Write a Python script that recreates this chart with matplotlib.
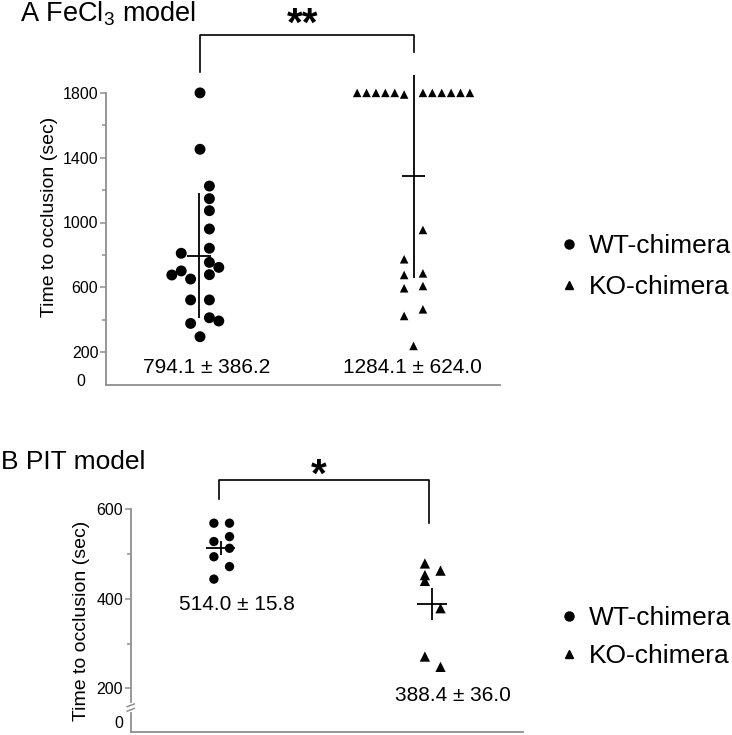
import matplotlib
matplotlib.use('Agg')
import numpy as np
import matplotlib.pyplot as plt
from matplotlib.lines import Line2D

plt.rcParams['font.family'] = ['Liberation Sans', 'DejaVu Sans']
plt.rcParams['mathtext.fontset'] = 'custom'
plt.rcParams['mathtext.rm'] = 'Liberation Sans'
plt.rcParams['mathtext.it'] = 'Liberation Sans:italic'
plt.rcParams['mathtext.bf'] = 'Liberation Sans:bold'

groups = ['WT-chimera', 'KO-chimera']

# panel A: FeCl3 model (values in sec, column = beeswarm column)
wt_a = [1800, 1452, 1225, 1147, 1073, 960, 841, 810, 754, 723, 701, 676, 678, 651, 522, 522, 412, 392, 377, 295]
wt_a_col = [0, 0, 1, 1, 1, 1, 1, -2, 1, 2, -2, -3, 1, -1, -1, 1, 1, 2, -1, 0]
ko_a = [1800, 1800, 1800, 1800, 1800, 1790, 1800, 1800, 1800, 1800, 1800, 1800,
        954, 773, 676, 686, 594, 608, 464, 423, 238]
ko_a_col = [-6, -5, -4, -3, -2, -1, 1, 2, 3, 4, 5, 6,
            1, -1, -1, 1, -1, 1, 1, -1, 0]
mean_a = [794.1, 1284.1]
sd_a = [386.2, 624.0]

# panel B: PIT model
wt_b = [569, 569, 528, 539, 513, 494, 472, 444]
wt_b_col = [-1, 1, -1, 1, 1, -1, 1, -1]
ko_b = [479, 453, 463, 440, 379, 271, 248]
ko_b_col = [-1, -1, 1, -1, 1, -1, 1]
mean_b = [514.0, 388.4]
sem_b = [15.8, 36.0]

W, H = 732, 735
fig = plt.figure(figsize=(W / 100, H / 100), dpi=100)
spine_col = '#8f8f8f'


def px(x, y):
    return x / W, 1 - y / H


def style_axes(ax):
    ax.spines['top'].set_visible(False)
    ax.spines['right'].set_visible(False)
    for s in ['left', 'bottom']:
        ax.spines[s].set_color(spine_col)
        ax.spines[s].set_linewidth(1.3)
    ax.set_xticks([])
    ax.tick_params(axis='y', which='both', colors=spine_col, labelcolor='black',
                   labelsize=11.5, pad=1, width=1.1)
    ax.tick_params(axis='y', which='major', length=4.5)
    ax.tick_params(axis='y', which='minor', length=3)
    ax.patch.set_alpha(0)


# ---------- panel A ----------
axA = fig.add_axes([106 / W, 1 - 384.5 / H, 394 / W, 372.6 / H])
axA.set_xlim(0.5597, 2.405)
axA.set_ylim(0, 2300)
style_axes(axA)
axA.spines['left'].set_bounds(0, 1800)
axA.set_yticks([200, 600, 1000, 1400, 1800])
axA.set_yticks([400, 800, 1200, 1600], minor=True)

col_a = 0.044
axA.scatter(1 + np.array(wt_a_col) * col_a, wt_a, s=62, marker='o', color='black',
            edgecolor='none', clip_on=False, zorder=3)
axA.scatter(2 + np.array(ko_a_col) * col_a, ko_a, s=38, marker='^', color='black',
            edgecolor='none', clip_on=False, zorder=3)
axA.errorbar([0.994, 2.0], mean_a, yerr=sd_a, fmt='none', ecolor='black',
             elinewidth=1.3, capsize=0, clip_on=False)
axA.hlines(mean_a, [0.994 - 0.056, 2.0 - 0.056], [0.994 + 0.056, 2.0 + 0.056],
           color='black', lw=1.3)
for x, m, s in zip([1.033, 1.995], mean_a, sd_a):
    axA.text(x, 108, f'{m:.1f} \u00b1 {s:.1f}', ha='center', va='center', fontsize=15)

# significance bracket
axA.plot([1, 1, 2.004, 2.004], [1931, 2157, 2157, 2054], color='black', lw=1.2, clip_on=False)
axA.text(1.48, 2218, '**', ha='center', va='center', fontsize=29, fontweight='bold')
axA.text(-0.065, 0.008, '0', transform=axA.transAxes, ha='center', va='center', fontsize=11.5)

# ---------- panel B ----------
axB = fig.add_axes([130.7 / W, 1 - 732 / H, 392 / W, 292 / H])
axB.set_xlim(0.5687, 2.4265)
axB.set_ylim(102.4, 754.9)
style_axes(axB)
axB.spines['left'].set_bounds(170, 600)
axB.set_yticks([200, 400, 600])
axB.set_yticks([300, 500], minor=True)

col_b = 0.037
axB.scatter(1 + np.array(wt_b_col) * col_b, wt_b, s=45, marker='o', color='black',
            edgecolor='none', zorder=3)
axB.scatter(2 + np.array(ko_b_col) * col_b, ko_b, s=55, marker='^', color='black',
            edgecolor='none', zorder=3)
axB.errorbar([0.995, 1.997], mean_b, yerr=sem_b, fmt='none', ecolor='black',
             elinewidth=1.3, capsize=0)
axB.hlines(mean_b, [0.995 - 0.068, 1.997 - 0.072], [0.995 + 0.068, 1.997 + 0.072],
           color='black', lw=1.3)
for x, y, m, s in zip([1.071, 2.094], [388, 184], mean_b, sem_b):
    axB.text(x, y, f'{m:.1f} \u00b1 {s:.1f}', ha='center', va='center', fontsize=15)

axB.plot([0.988, 0.988, 1.981, 1.981], [622, 665.5, 665.5, 569], color='black', lw=1.2, clip_on=False)
axB.text(1.461, 675, '*', ha='center', va='center', fontsize=29, fontweight='bold')

# axis break on the left spine
tr = axB.get_yaxis_transform()
axB.plot([0, 0], [102.4, 145], color=spine_col, lw=1.3, transform=tr, clip_on=False)
for yb in [152, 162]:
    axB.plot([-0.009, 0.009], [yb - 3, yb + 3], color=spine_col, lw=1.1,
             transform=tr, clip_on=False)
axB.text(-0.03, 0.028, '0', transform=axB.transAxes, ha='center', va='center', fontsize=11.5)

# ---------- titles / labels ----------
fig.text(*px(20, 14), 'A FeCl$_3$ model', fontsize=19.5, ha='left', va='center')
fig.text(*px(1, 462), 'B PIT model', fontsize=19, ha='left', va='center')
fig.text(*px(50, 217), 'Time to occlusion (sec)', rotation=90, fontsize=14,
         ha='center', va='center')
fig.text(*px(81, 621), 'Time to occlusion (sec)', rotation=90, fontsize=14,
         ha='center', va='center')

# ---------- legends ----------
handles = [Line2D([], [], marker='o', color='black', ls='none', markersize=6.5),
           Line2D([], [], marker='^', color='black', ls='none', markersize=6)]
for yc, ls in [(266.7, 0.63), (637, 0.54)]:
    fig.legend(handles=handles, labels=groups, loc='center left',
               bbox_to_anchor=px(556.3, yc), frameon=False, fontsize=19,
               handlelength=1, handletextpad=0.24, labelspacing=ls,
               borderpad=0, borderaxespad=0)

fig.savefig('out.png', dpi=100)
